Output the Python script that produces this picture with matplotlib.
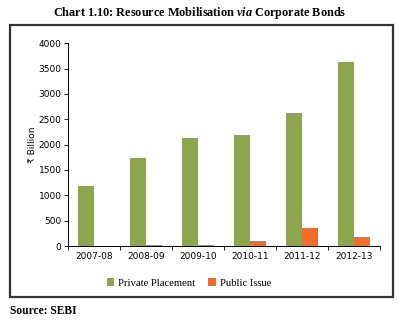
import matplotlib.pyplot as plt
import numpy as np
from matplotlib.patches import Rectangle

years = ["2007-08", "2008-09", "2009-10", "2010-11", "2011-12", "2012-13"]
private_placement = [1190, 1740, 2130, 2190, 2615, 3620]
public_issue = [0, 15, 20, 95, 355, 170]

green = "#8DA54E"
orange = "#F26D2B"

plt.rcParams["mathtext.fontset"] = "custom"
plt.rcParams["mathtext.it"] = "Liberation Serif:italic:bold"
plt.rcParams["mathtext.rm"] = "Liberation Serif:bold"

fig = plt.figure(figsize=(3.99, 3.22), dpi=100)

# frame round the chart
fig.patches.append(Rectangle((10 / 399, 1 - 297 / 322), 383 / 399, 272 / 322,
                             transform=fig.transFigure, fill=False,
                             edgecolor="#333333", linewidth=1.6))

ax = fig.add_axes([0.170, 0.236, 0.782, 0.630])
x = np.arange(len(years))
w = 0.31
ax.bar(x - w / 2, private_placement, w, color=green, label="Private Placement")
ax.bar(x + w / 2, public_issue, w, color=orange, label="Public Issue")

ax.set_xlim(-0.5, len(years) - 0.5)
ax.set_ylim(0, 4000)
ax.set_yticks(range(0, 4001, 500))
ax.tick_params(axis="y", labelsize=6.5, length=3, width=0.6, pad=1.5)
ax.set_xticks(x)
ax.set_xticklabels(years, fontsize=6.5)
ax.tick_params(axis="x", length=0, pad=4)
ax.set_xticks(np.arange(-0.5, len(years)), minor=True)
ax.tick_params(axis="x", which="minor", length=3, width=0.6)
for s in ["top", "right"]:
    ax.spines[s].set_visible(False)
for s in ["left", "bottom"]:
    ax.spines[s].set_linewidth(0.7)
ax.set_ylabel("₹ Billion", fontsize=6.5, labelpad=1)

fig.legend(loc="center", bbox_to_anchor=(189 / 399, 1 - 283 / 322), ncol=2,
           frameon=False, handlelength=0.7, handleheight=0.7,
           handletextpad=0.4, columnspacing=1.2,
           prop={"family": "Liberation Serif", "size": 7.7})

fig.text(0.5, 1 - 13 / 322, "Chart 1.10: Resource Mobilisation $\\mathit{via}$ Corporate Bonds",
         ha="center", va="center", fontsize=8.8, fontweight="bold",
         family="Liberation Serif")
fig.text(10 / 399, 1 - 311 / 322, "Source: SEBI", ha="left", va="center",
         fontsize=8.3, fontweight="bold", family="Liberation Serif")

fig.savefig("out.png", dpi=100)
